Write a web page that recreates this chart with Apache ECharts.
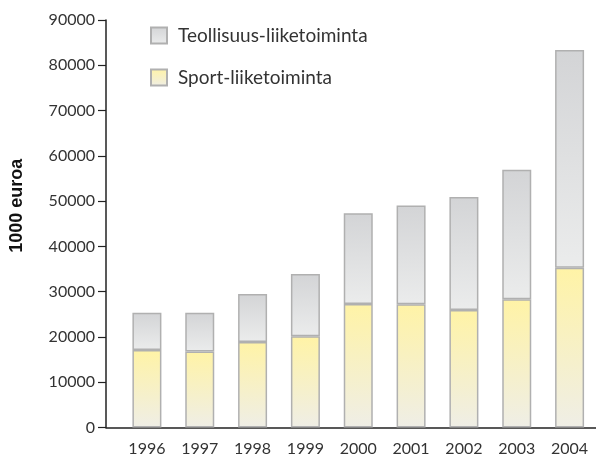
<!DOCTYPE html>
<html>
<head>
<meta charset="utf-8">
<script src="https://cdn.jsdelivr.net/npm/echarts@6/dist/echarts.min.js"></script>
<style>
  html, body { margin: 0; padding: 0; background: #fff; }
  #chart { width: 596px; height: 457px; }
</style>
</head>
<body>
<div id="chart"></div>
<script>
// vuodet ja arvot (1000 euroa), luettu kuvasta
var years = ['1996', '1997', '1998', '1999', '2000', '2001', '2002', '2003', '2004']
var sportValues = [17100, 16800, 18900, 20150, 27300, 27200, 25950, 28350, 35300]
var totalValues = [25350, 25350, 29500, 33900, 47300, 49050, 50900, 56900, 83350]

var teollisuusValues = totalValues.map(function(t, i) { return t - sportValues[i] })

var fontFamily = 'Lato, "Open Sans", sans-serif'
var grayFill = new echarts.graphic.LinearGradient(0, 0, 0, 1, [
  { offset: 0, color: '#d3d4d6' },
  { offset: 1, color: '#ebecec' }
])
var yellowFill = new echarts.graphic.LinearGradient(0, 0, 0, 1, [
  { offset: 0, color: '#fff3a6' },
  { offset: 1, color: '#efeee6' }
])

var chart = echarts.init(document.getElementById('chart'), null, { renderer: 'canvas' })
var option = {
  animation: false,
  backgroundColor: '#fff',
  textStyle: { fontFamily: fontFamily },
  legend: {
    orient: 'vertical',
    left: 150,
    top: 26,
    padding: 0,
    itemWidth: 16,
    itemHeight: 16,
    itemGap: 23,
    icon: 'rect',
    textStyle: { fontSize: 19, color: '#333', fontFamily: fontFamily, padding: [0, 0, 0, 6] },
    data: ['Teollisuus-liiketoiminta', 'Sport-liiketoiminta']
  },
  // grid 0: akselit (alkaa y-akselilta), grid 1: pylväät
  grid: [
    { left: 105, right: 0, top: 20, bottom: 29.5 },
    { left: 120.5, width: 476.7, top: 20, bottom: 29.5 }
  ],
  xAxis: [
    {
      gridIndex: 0,
      type: 'value',
      min: 0,
      max: 1,
      splitLine: { show: false },
      axisLine: { show: true, lineStyle: { color: '#222', width: 1.5 } },
      axisTick: { show: false },
      axisLabel: { show: false }
    },
    {
      gridIndex: 1,
      type: 'category',
      data: years,
      axisLine: { show: false },
      axisTick: { show: false },
      axisLabel: {
        color: '#333',
        fontSize: 16,
        margin: 13,
        fontFamily: fontFamily
      }
    }
  ],
  yAxis: [
    {
      gridIndex: 0,
      type: 'value',
      min: 0,
      max: 90000,
      interval: 10000,
      name: '1000 euroa',
      nameLocation: 'middle',
      nameRotate: 90,
      nameGap: 80,
      nameTextStyle: {
        fontFamily: '"Liberation Sans", Arial, sans-serif',
        fontWeight: 'bold',
        fontSize: 18,
        color: '#111',
        padding: [0, 0, 0, 36]
      },
      splitLine: { show: false },
      axisLine: { show: true, lineStyle: { color: '#222', width: 1.5 } },
      axisTick: { show: true, length: 8, lineStyle: { color: '#222', width: 1.2 } },
      axisLabel: {
        color: '#333',
        fontSize: 16,
        margin: 11,
        fontFamily: fontFamily,
        formatter: function(v) { return String(v) }
      }
    },
    {
      gridIndex: 1,
      type: 'value',
      min: 0,
      max: 90000,
      show: false
    }
  ],
  series: [
    {
      name: 'Sport-liiketoiminta',
      type: 'bar',
      stack: 'yht',
      xAxisIndex: 1,
      yAxisIndex: 1,
      barWidth: 29,
      itemStyle: { color: yellowFill, borderColor: '#b0b0b0', borderWidth: 1.5 },
      data: sportValues
    },
    {
      name: 'Teollisuus-liiketoiminta',
      type: 'bar',
      stack: 'yht',
      xAxisIndex: 1,
      yAxisIndex: 1,
      barWidth: 29,
      itemStyle: { color: grayFill, borderColor: '#b0b0b0', borderWidth: 1.5 },
      data: teollisuusValues
    }
  ]
}
chart.setOption(option)
</script>
</body>
</html>
